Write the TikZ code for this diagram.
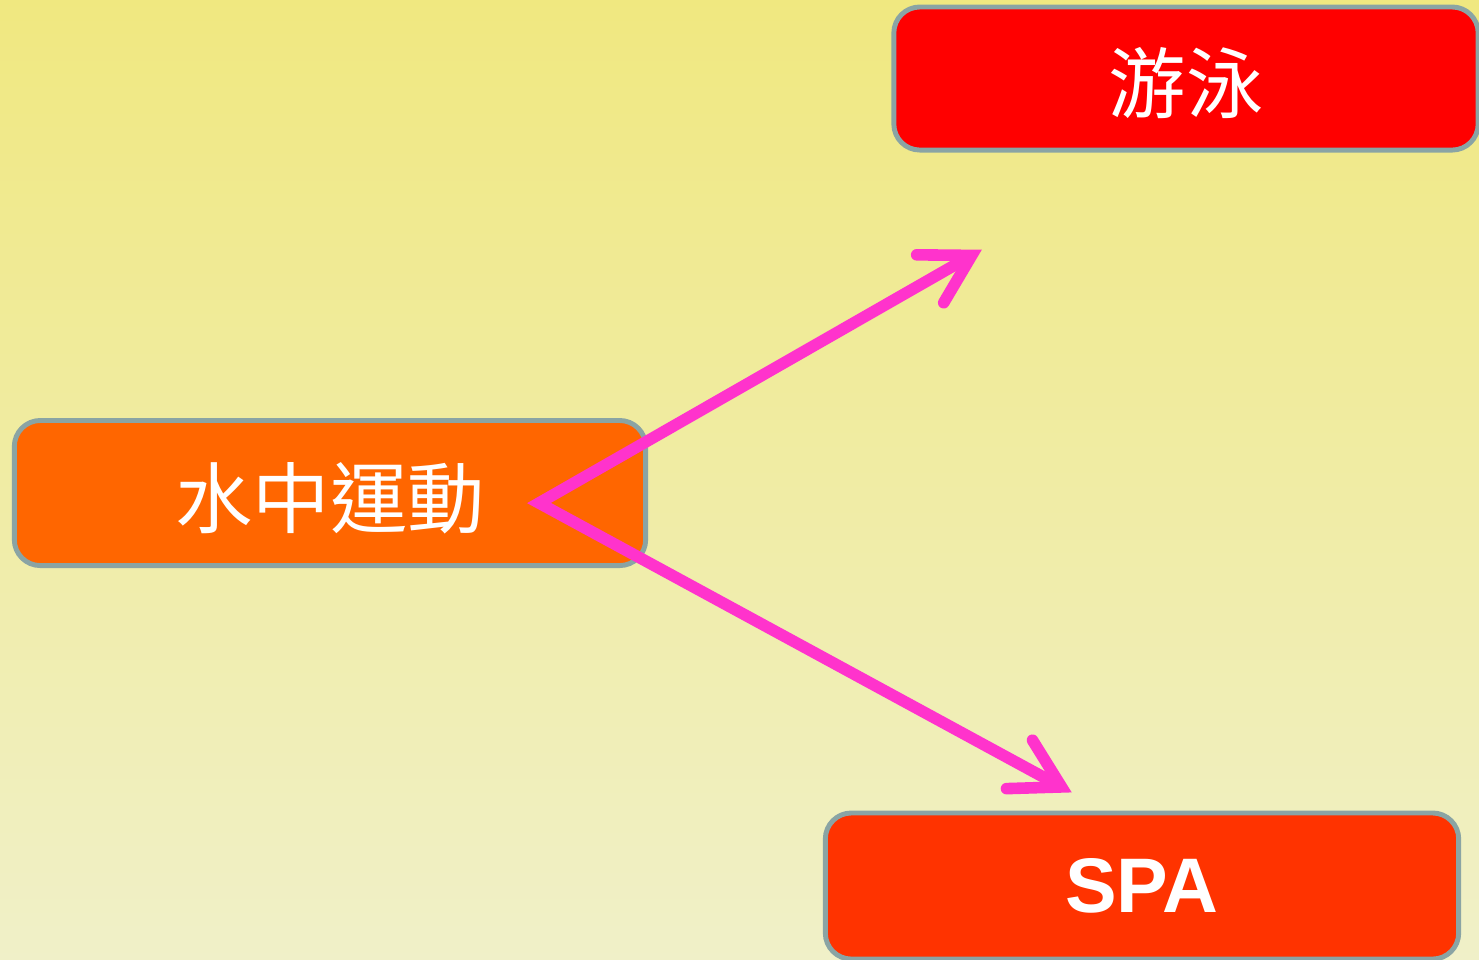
\documentclass[tikz,border=0pt]{standalone}
\usepackage{fontspec}
\setsansfont{Liberation Sans}
\newfontfamily\cjk{Noto Sans CJK TC}
\definecolor{bgtop}{RGB}{240,232,128}
\definecolor{bgbot}{RGB}{240,240,200}
\definecolor{edgec}{RGB}{138,164,164}
\definecolor{redA}{RGB}{255,0,0}
\definecolor{orangeA}{RGB}{255,102,0}
\definecolor{redB}{RGB}{255,51,0}
\definecolor{magentaA}{RGB}{255,51,204}
\begin{document}
\begin{tikzpicture}[x=0.01cm,y=-0.01cm,
  box/.style={draw=edgec,line width=1.4pt,rounded corners=0.26cm,inner sep=0pt,outer sep=0pt,text=white},
  cjktext/.style={font=\cjk\fontsize{22}{26}\selectfont,yshift=-0.05cm},
  conn/.style={draw=magentaA,line width=3.3pt,line join=miter,line cap=butt},
  head/.style={draw=magentaA,line width=3.3pt,line join=miter,line cap=round}]
\shade[top color=bgtop,bottom color=bgbot] (0,0) rectangle (1479,959);
\useasboundingbox (0,0) rectangle (1479,959);
\node[box,fill=redA,minimum width=5.84cm,minimum height=1.43cm] (swim) at (1186,78.5) {};
\node[cjktext,text=white] (swimtext) at (swim.center) {游泳};
\node[box,fill=orangeA,minimum width=6.31cm,minimum height=1.45cm] (water) at (330,493) {};
\node[cjktext,text=white] (watertext) at (water.center) {水中運動};
\node[box,fill=redB,minimum width=6.33cm,minimum height=1.46cm,font=\sffamily\bfseries\fontsize{22}{26}\selectfont] (spa) at (1142,886) {SPA};
\coordinate (v) at (539,503);
\coordinate (h1) at (971.7,255.4);
\coordinate (a1) at (916.7,254.8);
\coordinate (b1) at (943.7,302.7);
\coordinate (h2) at (1061.5,786.9);
\coordinate (a2) at (1006.5,788.6);
\coordinate (b2) at (1032.5,740.2);
\draw[conn] (h1) -- (v) -- (h2);
\draw[head] (a1) -- (h1) -- (b1);
\draw[head] (a2) -- (h2) -- (b2);
\end{tikzpicture}
\end{document}
